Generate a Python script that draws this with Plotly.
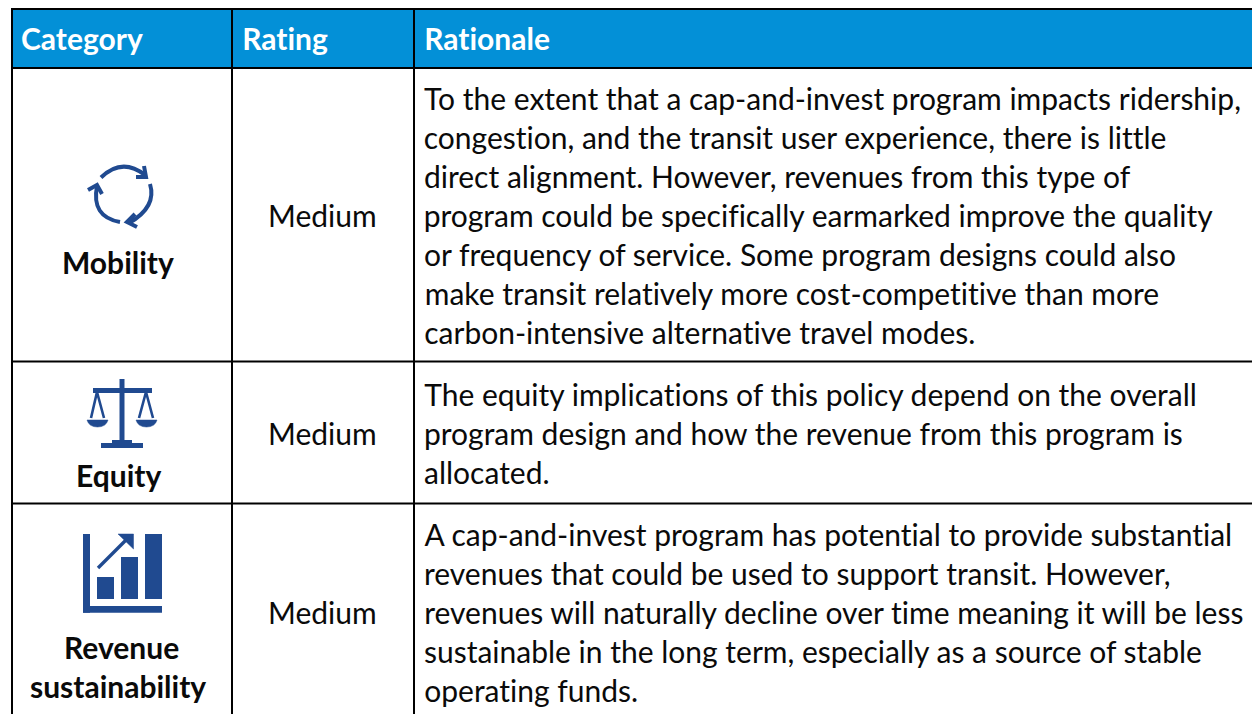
import plotly.graph_objects as go

headers = ["Category", "Rating", "Rationale"]
categories = [["Mobility"], ["Equity"], ["Revenue", "sustainability"]]
ratings = ["Medium", "Medium", "Medium"]
rationales = [
    ["To the extent that a cap-and-invest program impacts ridership,",
     "congestion, and the transit user experience, there is little",
     "direct alignment. However, revenues from this type of",
     "program could be specifically earmarked improve the quality",
     "or frequency of service. Some program designs could also",
     "make transit relatively more cost-competitive than more",
     "carbon-intensive alternative travel modes."],
    ["The equity implications of this policy depend on the overall",
     "program design and how the revenue from this program is",
     "allocated."],
    ["A cap-and-invest program has potential to provide substantial",
     "revenues that could be used to support transit. However,",
     "revenues will naturally decline over time meaning it will be less",
     "sustainable in the long term, especially as a source of stable",
     "operating funds."],
]

FONT = "Lato, Carlito, Calibri, sans-serif"
BLUE = "#0390d7"
ICON = "#204a90"
TXT = "#0a0a0a"
W, H = 1252, 714
col_x = [12, 232, 414, 1260]
row_y = [9, 68, 361.5, 503.5, 730]
cat_xs = [[118], [118], [121, 118]]
cat_ys = [[262], [475], [647, 686]]
rating_ys = [215, 433, 612]
text_ys = [[98, 137, 176, 215, 254, 293, 332], [394, 433, 472], [534, 573, 612, 651, 690]]

shapes, ann = [], []

def text(x, y, s, size=30, color=TXT, bold=False, anchor="left"):
    ann.append(dict(x=x, y=y, text=f"<b>{s}</b>" if bold else s, showarrow=False,
                    xanchor=anchor, yanchor="middle",
                    font=dict(family=FONT, size=size, color=color)))

def rect(x0, y0, x1, y1, color):
    shapes.append(dict(type="rect", x0=x0, y0=y0, x1=x1, y1=y1, fillcolor=color,
                       line=dict(width=0), layer="above"))

def stroke(path, width=4):
    shapes.append(dict(type="path", path=path, line=dict(color=ICON, width=width),
                       layer="above"))

def fill(path):
    shapes.append(dict(type="path", path=path, fillcolor=ICON, line=dict(color=ICON, width=0.5),
                       layer="above"))

# header band and rules
rect(12, 9, W + 8, 68, BLUE)
for x in col_x[:3]:
    shapes.append(dict(type="line", x0=x, x1=x, y0=row_y[0], y1=H + 5,
                       line=dict(color="black", width=2), layer="above"))
for y in row_y[:4]:
    shapes.append(dict(type="line", x0=11, x1=W + 8, y0=y, y1=y,
                       line=dict(color="black", width=2), layer="above"))

# header text
for x, s in zip([19, 240, 422], headers):
    text(x, 38, s, size=30, color="white", bold=True)

# body text
for lines, xs, ys in zip(categories, cat_xs, cat_ys):
    for s, x, y in zip(lines, xs, ys):
        text(x, y, s, size=30, bold=True, anchor="center")
for s, y in zip(ratings, rating_ys):
    text(322.5, y, s, size=30, anchor="center")
for lines, ys in zip(rationales, text_ys):
    for s, y in zip(lines, ys):
        text(422, y, s, size=30)

# Mobility icon
stroke("M101,177.5 Q122,157 145,175")
stroke("M136,177 L146,177 L144,166")
stroke("M150,184 Q157,207 129,223")
stroke("M135,214 L127,222 L137,227")
stroke("M120,222 Q91,217 97,186")
stroke("M88,190 L97,185 L102,194")

# Equity icon
rect(119.5, 379, 124.5, 443, ICON)
rect(93, 388, 152, 393, ICON)
rect(101, 443, 143, 448, ICON)
rect(112, 440, 132, 443, ICON)
stroke("M97,392 L91,418 M97,392 L104,418", 2.6)
stroke("M146,392 L139,418 M146,392 L153,418", 2.6)
fill("M87,420 L108,420 Q106,427 97.5,427 Q89,427 87,420 Z")
fill("M136,420 L157,420 Q155,427 146.5,427 Q138,427 136,420 Z")

# Revenue icon
rect(83, 534, 90, 612.7, ICON)
rect(83, 606, 162, 612.7, ICON)
rect(97, 577, 114, 599, ICON)
rect(121, 557, 138, 599, ICON)
rect(145, 534, 162, 599, ICON)
stroke("M98,568 L128,538", 3.4)
fill("M118,534 L133.5,534 L133.5,549 Z")

fig = go.Figure()
fig.update_layout(
    width=W, height=H, autosize=False,
    margin=dict(l=0, r=0, t=0, b=0),
    paper_bgcolor="white", plot_bgcolor="white",
    xaxis=dict(range=[0, W], visible=False, fixedrange=True),
    yaxis=dict(range=[H, 0], visible=False, fixedrange=True),
    shapes=shapes, annotations=ann, showlegend=False,
)
post = """
document.body.style.margin='0';
document.documentElement.style.overflow='hidden';
var st=document.createElement('style');
st.textContent='svg text{font-variant-ligatures:none !important;font-feature-settings:"liga" 0,"clig" 0,"dlig" 0 !important;letter-spacing:0.001px;}';
document.head.appendChild(st);
"""
fig.write_html("out.html", config=dict(displayModeBar=False), post_script=post)
